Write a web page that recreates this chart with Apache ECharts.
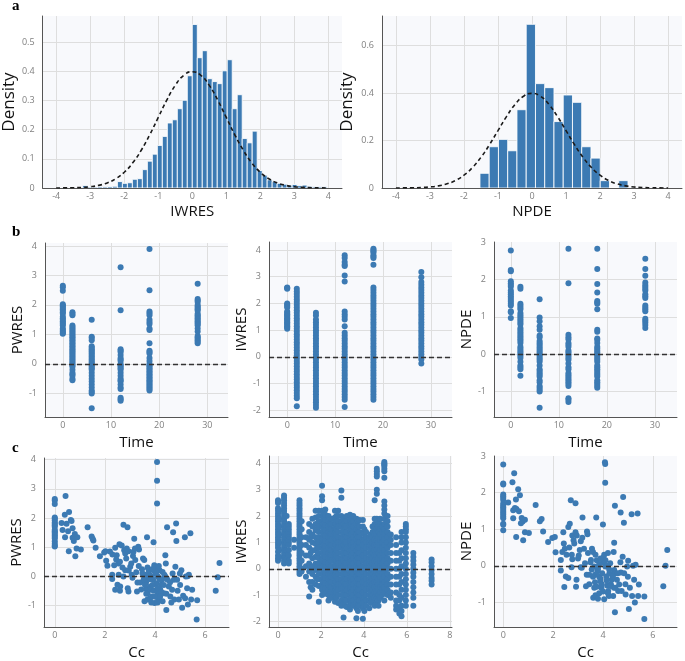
<!DOCTYPE html>
<html><head><meta charset="utf-8">
<script src="https://cdn.jsdelivr.net/npm/echarts@6/dist/echarts.min.js"></script>
<style>html,body{margin:0;padding:0;background:#fff}#c{width:685px;height:661px}</style>
</head><body><div id="c"></div>
<script>
// ---------- DATA ----------
// Histogram of IWRES (density), bins of equal width starting at iwresBinStart
const iwresBinStart = -3.227;
const iwresBinWidth = 0.1467;
const iwresDensity = [0.008,0.003,0.003,0.004,0.004,0.005,0.006,
  0.022,0.016,0.018,0.03,0.032,0.063,0.092,0.116,0.146,0.177,0.223,0.234,0.272,0.301,0.385,
  0.561,0.447,0.471,0.375,0.365,0.358,0.402,0.44,0.272,0.32,0.17,0.155,0.195,
  0.06,0.044,0.028,0.022,0.016,0.013,0.01,0.012,0.008,0.01,0.006,0.004,0.004,0.004];
// Histogram of NPDE
const npdeBinStart = -1.53;
const npdeBinWidth = 0.272;
const npdeDensity = [0.062,0.174,0.205,0.157,0.33,0.69,0.44,0.423,0.28,0.392,0.361,0.174,0.126,0.031,0,0.031];
// Standard normal reference curve
const curveX = [-4,-3.75,-3.5,-3.25,-3,-2.75,-2.5,-2.25,-2,-1.75,-1.5,-1.25,-1,-0.75,-0.5,-0.25,0,0.25,0.5,0.75,1,1.25,1.5,1.75,2,2.25,2.5,2.75,3,3.25,3.5,3.75,4];
const curveY = [0.0001,0.0004,0.0009,0.002,0.0044,0.0091,0.0175,0.0317,0.054,0.0863,0.1295,0.1826,0.242,0.3011,0.3521,0.3867,0.3989,0.3867,0.3521,0.3011,0.242,0.1826,0.1295,0.0863,0.054,0.0317,0.0175,0.0091,0.0044,0.002,0.0009,0.0004,0.0001];

// Residuals vs time (one list per sampling time)
const timePoints = [0, 2, 6, 12, 18, 28];
const pwresByTime = [
 [2.65,2.6,2.48,2.02,1.98,1.95,1.9,1.85,1.8,1.75,1.7,1.6,1.55,1.5,1.45,1.4,1.35,1.3,1.2,1.15,1.1,1.05,1.02],
 [1.75,1.7,1.65,1.3,1.25,1.2,1.15,1.1,1.05,1.0,0.95,0.9,0.85,0.8,0.75,0.7,0.65,0.6,0.55,0.5,0.45,0.4,0.35,0.3,0.25,0.2,0.15,0.1,0.05,0.0,-0.05,-0.1,-0.2,-0.3,-0.35,-0.4,-0.5,-0.55],
 [1.5,0.92,0.88,0.8,0.6,0.55,0.5,0.45,0.4,0.35,0.3,0.25,0.2,0.15,0.1,0.05,0,-0.05,-0.1,-0.15,-0.2,-0.3,-0.4,-0.5,-0.6,-0.7,-0.8,-0.9,-0.95,-1.0,-1.5],
 [3.28,1.82,0.5,0.45,0.4,0.3,0.2,0.15,0.1,0.0,-0.05,-0.1,-0.15,-0.2,-0.3,-0.4,-0.5,-0.55,-0.6,-0.7,-0.8,-0.85,-1.15,-1.2,-1.25],
 [3.9,2.5,1.78,1.72,1.65,1.5,1.42,1.35,1.2,1.15,0.7,0.45,0.4,0.35,0.2,0.1,0.0,-0.05,-0.1,-0.15,-0.2,-0.25,-0.3,-0.35,-0.4,-0.45,-0.5,-0.55,-0.6,-0.65,-0.7,-0.75,-0.8,-0.85,-0.9],
 [2.72,2.2,2.15,2.1,2.0,1.95,1.9,1.85,1.8,1.7,1.65,1.6,1.55,1.5,1.45,1.4,1.35,1.3,1.2,1.1,0.95,0.9,0.85,0.8,0.75,0.7]
];
const iwresByTime = [
 [2.6,2.58,2.55,2.0,1.95,1.9,1.85,1.7,1.65,1.6,1.55,1.5,1.45,1.4,1.35,1.3,1.25,1.2,1.15,1.1,1.05],
 [2.55,2.45,2.35,2.25,2.15,2.05,1.95,1.85,1.75,1.65,1.55,1.45,1.35,1.25,1.15,1.05,0.95,0.85,0.75,0.65,0.55,0.45,0.35,0.25,0.15,0.05,-0.05,-0.15,-0.25,-0.35,-0.45,-0.55,-0.65,-0.75,-0.85,-0.95,-1.05,-1.15,-1.25,-1.35,-1.45,-1.55,-1.85],
 [1.65,1.55,1.4,1.3,1.2,1.1,1.0,0.9,0.8,0.7,0.6,0.5,0.4,0.3,0.2,0.1,0.0,-0.1,-0.2,-0.3,-0.4,-0.5,-0.6,-0.7,-0.8,-0.9,-1.0,-1.1,-1.2,-1.3,-1.4,-1.5,-1.6,-1.7,-1.8,-1.9],
 [3.8,3.7,3.55,3.45,3.4,3.05,2.82,1.7,1.6,1.5,1.4,1.15,0.9,0.8,0.7,0.6,0.5,0.4,0.3,0.2,0.1,0.0,-0.1,-0.2,-0.3,-0.4,-0.5,-0.6,-0.7,-0.8,-0.9,-1.0,-1.1,-1.2,-1.3,-1.4,-1.5,-1.6,-1.88],
 [4.05,4.0,3.95,3.9,3.8,3.75,3.7,3.45,2.6,2.5,2.4,2.3,2.2,2.1,2.0,1.9,1.8,1.7,1.6,1.5,1.4,1.3,1.2,1.1,1.0,0.9,0.8,0.7,0.6,0.5,0.4,0.3,0.2,0.1,0.0,-0.1,-0.2,-0.3,-0.4,-0.5,-0.6,-0.7,-0.8,-0.9,-1.0,-1.1,-1.2,-1.3,-1.4,-1.5,-1.6],
 [3.18,2.98,2.8,2.7,2.6,2.5,2.4,2.3,2.2,2.1,2.0,1.9,1.8,1.7,1.6,1.5,1.4,1.3,1.2,1.1,1.0,0.9,0.8,0.7,0.6,0.5,0.4,0.3,0.2,0.1,0.0,-0.1,-0.25]
];
const npdeByTime = [
 [2.77,2.25,2.22,1.95,1.9,1.85,1.8,1.7,1.65,1.6,1.55,1.5,1.45,1.4,1.35,1.3,1.15,1.12,0.97],
 [1.8,1.75,1.35,1.3,1.25,1.2,1.1,1.05,1.0,0.95,0.9,0.85,0.8,0.7,0.65,0.6,0.55,0.5,0.45,0.4,0.35,0.3,0.2,0.15,0.1,0.05,0,-0.05,-0.1,-0.2,-0.3,-0.35,-0.4,-0.58],
 [1.47,0.98,0.88,0.75,0.65,0.5,0.45,0.35,0.3,0.25,0.2,0.15,0.1,0.05,0,-0.05,-0.1,-0.15,-0.2,-0.3,-0.4,-0.45,-0.5,-0.55,-0.6,-0.7,-0.75,-0.85,-0.9,-0.95,-1.0,-1.43],
 [2.82,1.9,0.52,0.45,0.4,0.3,0.25,0.2,0.1,0.05,0,-0.05,-0.1,-0.15,-0.25,-0.35,-0.4,-0.5,-0.55,-0.6,-0.65,-0.7,-0.75,-0.8,-0.85,-1.18,-1.22,-1.28],
 [2.82,2.28,1.88,1.65,1.42,1.38,1.35,1.2,0.65,0.6,0.42,0.38,0.3,0.2,0.15,0.1,0.05,0,-0.05,-0.1,-0.15,-0.2,-0.3,-0.35,-0.4,-0.45,-0.5,-0.55,-0.6,-0.7,-0.75,-0.8,-0.85,-0.9],
 [2.55,2.28,2.1,1.92,1.85,1.8,1.75,1.7,1.6,1.55,1.5,1.3,1.25,1.2,1.15,0.95,0.9,0.85,0.78,0.7]
];

// Residuals vs concentration Cc: [Cc, value]
const pwresVsCc = [
 [0,2.65],[0,2.6],[0,2.48],[0,2.02],[0,1.98],[0,1.92],[0,1.85],[0,1.8],[0,1.75],[0,1.7],[0,1.6],[0,1.55],[0,1.5],[0,1.45],[0,1.4],[0,1.35],[0,1.3],[0,1.2],[0,1.12],[0,1.05],[0,1.02],
 [0.27,1.83],[0.4,2.11],[0.43,2.76],[0.53,1.55],[0.57,2.21],[0.64,1.93],[0.71,1.65],[0.47,1.8],[0.31,1.59],[0.41,1.34],[0.56,0.86],[0.71,1.32],[0.76,1.21],[0.82,0.69],[0.87,0.95],[0.9,1.34],[1.04,0.92],[0.8,1.45],[0.67,1.9],
 [1.31,1.68],[1.47,1.37],[1.51,1.29],[1.54,1.23],[1.63,0.98],[1.8,0.69],[1.97,0.82],[2.02,0.86],[2.05,0.53],[2.1,0.36],
 [2.29,0.05],[2.29,-0.09],[2.41,-0.46],[2.5,-0.29],[2.61,-0.35],[2.41,0.98],[2.47,0.72],[2.45,0.58],[2.37,0.38],[2.54,0.44],[2.58,1.1],[2.67,1.06],[2.74,1.77],[2.9,1.68],[2.77,0.89],[2.81,0.78],[2.85,0.61],[2.87,0.95],[2.94,0.86],[2.91,-0.41],[2.94,-0.52],[2.74,-0.01],[2.81,0.21],[3.01,0.33],[3.05,0.44],[3.12,0.7],[3.14,0.84],[3.17,1.29],[3.21,0.56],[3.25,0.14],[3.07,0.05],[3.28,-0.52],[3.3,-0.21],[3.33,1.01],[3.36,0.92],[3.41,-0.21],[3.48,0.24],[3.52,0.61],[3.57,0.56],[3.61,0.05],[3.64,-0.21],[3.68,1.34],[3.65,-0.43],[3.7,-0.58],[3.58,-0.86],[3.74,-0.07],[3.78,0.05],[3.81,-0.35],[3.84,-0.46],[3.88,-0.69],[3.92,-0.12],[3.94,0.21],[3.97,0.38],[3.94,1.17],[3.98,-0.92],[4.08,3.92],[4.08,3.28],[4.08,2.5],[4.02,0.1],[4.05,-0.24],[4.08,-0.52],[4.1,-0.69],[4.13,-0.8],[4.16,-0.07],[4.18,0.21],[4.21,-0.46],[4.24,-0.29],[4.28,-0.12],[4.3,-0.86],[4.35,-0.58],[4.37,0.05],[4.41,0.72],[4.43,0.44],[4.45,-1.16],[4.48,1.68],[4.5,-0.12],[4.55,-0.35],[4.61,-0.69],[4.68,-0.46],[4.72,1.51],[4.75,-0.12],[4.77,-0.8],[4.81,0.33],[4.84,1.81],[4.85,1.21],[4.88,-0.12],[4.95,-0.8],[4.99,0.1],[5.05,0.21],[5.08,-1.08],[5.12,-0.67],[5.19,1.34],[5.23,-0.01],[5.28,-0.41],[5.31,-0.97],[5.35,0.05],[5.41,1.48],[5.44,-0.8],[5.48,-0.46],[5.66,-1.48],[5.68,-0.82],[6.42,-0.5],[6.5,-0.03],[6.57,0.46],
 [3.7,0.3],[3.75,0.2],[3.8,-0.1],[3.85,0.0],[3.9,-0.3],[3.95,-0.5],[4.0,0.3],[4.05,0.15],[4.1,-0.4],[4.15,0.35],[4.2,-0.1],[4.25,-0.55],[4.3,0.15],[3.6,-0.3],[3.65,-0.6],[3.7,-0.8],[3.8,-0.75],[3.9,0.25],[4.0,-0.7],[4.1,0.0],[4.2,-0.7],[4.35,-0.3],[4.4,0.0],[3.55,-0.1],[3.5,0.1],[2.6,0.5],[2.7,0.3],[2.95,0.2],[3.1,-0.05],[3.2,0.95],[3.45,-0.45],[3.35,0.35],[2.55,0.05],[2.3,0.75],[2.2,0.85],[2.6,-0.5],[4.6,-0.2],[4.7,0.1],[4.9,-0.5],[5.0,-0.3],[4.45,-0.6],[4.65,-0.9],[4.1,-0.9],[3.85,-0.9],[5.2,-0.75],[5.3,0.0]
];
const npdeVsCc = [
 [0,2.77],[0,2.25],[0,2.22],[0,1.95],[0,1.9],[0,1.85],[0,1.8],[0,1.7],[0,1.65],[0,1.6],[0,1.55],[0,1.5],[0,1.45],[0,1.4],[0,1.35],[0,1.3],[0,1.15],[0,1.12],[0,0.97],
 [0.2,1.73],[0.37,2.28],[0.44,2.53],[0.51,1.81],[0.6,2.09],[0.67,1.93],[0.4,1.52],[0.47,1.58],[0.53,1.55],[0.63,1.49],[0.4,1.3],[0.52,0.79],[0.74,1.31],[0.78,1.21],[0.8,0.7],[0.87,1.26],[0.87,0.92],[1.03,0.9],[0.71,1.16],
 [1.3,1.66],[1.47,1.22],[1.54,1.28],[1.6,0.94],[1.8,0.65],[1.97,0.76],[2.07,0.79],[2.1,0.37],[2.31,0.16],[2.31,-0.13],[2.45,-0.58],[2.51,-0.29],[2.61,-0.33],[2.41,0.92],[2.43,0.61],[2.47,0.47],[2.37,0.38],[2.54,0.3],[2.61,1.06],[2.67,1.15],[2.71,1.79],[2.9,1.71],[2.77,0.83],[2.82,0.7],[2.85,0.61],[2.9,0.92],[2.95,0.83],[2.94,-0.38],[2.92,-0.57],[2.74,-0.04],[2.77,0.18],[3.03,0.28],[3.07,0.43],[3.11,0.67],[3.17,0.77],[3.18,1.32],[3.24,0.47],[3.28,0.07],[3.11,-0.04],[3.32,-0.56],[3.35,-0.24],[3.36,0.94],[3.38,0.86],[3.45,-0.24],[3.52,0.16],[3.56,0.47],[3.6,0.38],[3.65,-0.02],[3.68,-0.24],[3.73,1.32],[3.68,-0.45],[3.75,-0.57],[3.61,-0.87],[3.78,-0.15],[3.81,-0.02],[3.85,-0.3],[3.89,-0.42],[3.94,-0.6],[3.97,-0.2],[4.0,0.09],[4.02,0.23],[4.0,1.13],[4.05,-0.91],[4.08,2.83],[4.09,2.78],[4.09,2.27],[4.1,-0.02],[4.14,-0.29],[4.17,-0.54],[4.21,-0.69],[4.24,-0.82],[4.26,-0.2],[4.29,0.07],[4.32,-0.51],[4.35,-0.38],[4.37,-0.24],[4.41,-0.82],[4.44,-0.6],[4.45,-0.11],[4.43,0.38],[4.45,0.63],[4.48,-1.27],[4.48,1.64],[4.51,-0.2],[4.56,-0.38],[4.61,-0.69],[4.65,-0.51],[4.71,1.46],[4.72,-0.18],[4.75,-0.69],[4.79,0.25],[4.81,1.88],[4.84,1.18],[4.85,-0.2],[4.91,-0.78],[4.97,-0.02],[5.01,0.14],[5.04,-1.18],[5.08,-0.6],[5.15,1.41],[5.17,-0.82],[5.21,0.0],[5.25,-0.38],[5.28,-1.0],[5.31,0.03],[5.39,1.43],[5.41,-0.82],[5.44,-0.51],[5.66,-1.45],[5.66,-0.84],[6.42,-0.56],[6.51,0.0],[6.58,0.43],
 [3.7,0.3],[3.75,0.15],[3.8,-0.1],[3.85,0.05],[3.9,-0.35],[3.95,-0.5],[4.05,0.3],[4.1,0.15],[4.15,-0.4],[4.2,0.35],[4.25,-0.1],[4.3,-0.55],[3.6,-0.3],[3.65,-0.6],[3.7,-0.8],[3.85,-0.75],[3.9,0.2],[4.0,-0.7],[4.15,0.0],[4.2,-0.75],[4.4,-0.3],[3.55,-0.1],[3.5,0.1],[2.65,0.5],[2.75,0.3],[3.0,0.2],[3.15,-0.05],[3.45,-0.5],[3.4,0.35],[4.6,-0.2],[4.7,0.1],[4.9,-0.5],[5.0,-0.3],[4.5,-0.6],[3.8,-0.9]
];
// IWRES vs Cc, grouped by Cc value: [Cc, [IWRES values]]
const iwresVsCcCols = [
 [0.0,[2.6,2.55,2.5,2.3,2.2,2.1,2.0,1.9,1.8,1.7,1.6,1.5,1.4,1.3,1.2,1.1,1.0,0.9,0.8,0.65,0.5,0.4,0.3]],
 [0.05,[2.2,1.9,1.6,1.3,1.0,0.7,0.45]],
 [0.28,[2.78,2.7,2.6,2.5,2.4,2.3,2.2,2.1,2.0,1.9,1.8,1.7,1.6,1.5,1.4,1.3,1.2,1.1,1.0,0.9,0.8,0.7,0.6,0.5,0.4,0.3,0.2]],
 [0.4,[2.0,1.6,1.3,1.0,0.7,0.35]],
 [0.5,[1.7,1.6,1.5,1.4,1.3,1.2,1.1,1.0,0.9,0.7,0.5,0.3,0.2]],
 [0.75,[1.1,0.8]],
 [1.0,[2.6,2.5,2.4,2.3,2.2,2.1,2.0,1.9,1.8,1.7,1.6,1.5,1.4,1.3,1.2,1.1,1.0,0.9,0.8,0.7,0.6,0.5,0.4,0.3,0.2,0.1,0.0,-0.1,-0.2]],
 [1.1,[1.8,1.5,1.2,0.9,0.6,0.3,0.0,-0.1]],
 [1.3,[1.2,0.9,0.5,0.1,-0.3]],
 [1.45,[1.7,1.4,1.1,0.8,0.5,0.2,-0.1,-0.5,-1.05]],
 [1.52,[1.2,0.6,0.0,-0.7]],
 [1.6,[1.9,1.6,1.3,1.0,0.7,0.4,0.1,-0.2,-0.5,-0.8]],
 [1.75,[2.2,1.95,1.7,1.45,1.2,0.95,0.7,0.45,0.2,-0.05,-0.3,-0.6]],
 [1.82,[1.5,1.1,0.8,0.5,0.1,-0.4]],
 [1.9,[2.2,2.0,1.8,1.6,1.4,1.2,1.0,0.8,0.6,0.4,0.2,0.0,-0.2,-0.4,-0.65,-1.25]],
 [2.05,[3.15,2.75,2.6,2.2,2.0,1.8,1.6,1.4,1.2,1.0,0.8,0.6,0.4,0.2,0.0,-0.2,-0.4,-0.6,-0.8,-1.0]],
 [2.12,[2.1,1.9,1.7,1.5,1.3,1.1,0.9,0.7,0.5,0.3,0.1,-0.1,-0.3,-0.5,-0.7,-0.9]],
 [2.2,[2.25,2.05,1.85,1.65,1.45,1.25,1.05,0.85,0.65,0.45,0.25,0.05,-0.15,-0.35,-0.55,-0.75,-0.95]],
 [2.35,[2.0,1.8,1.6,1.4,1.2,1.0,0.8,0.6,0.4,0.2,0.0,-0.2,-0.4,-0.6,-0.8,-1.0,-1.2]],
 [2.42,[1.7,1.5,1.3,1.1,0.9,0.7,0.5,0.3,0.1,-0.1,-0.3,-0.5,-0.7,-0.9,-1.1]],
 [2.5,[1.9,1.7,1.5,1.3,1.1,0.9,0.7,0.5,0.3,0.1,-0.1,-0.3,-0.5,-0.7,-0.9,-1.1]],
 [2.65,[2.2,1.95,1.75,1.55,1.35,1.15,0.95,0.75,0.55,0.35,0.15,-0.05,-0.25,-0.45,-0.65,-0.85,-1.05,-1.25]],
 [2.72,[2.0,1.7,1.5,1.3,1.1,0.9,0.7,0.5,0.3,0.1,-0.1,-0.3,-0.5,-0.7,-0.9,-1.1]],
 [2.8,[2.2,2.0,1.8,1.6,1.4,1.2,1.0,0.8,0.6,0.4,0.2,0.0,-0.2,-0.4,-0.6,-0.8,-1.0,-1.3]],
 [2.95,[2.97,2.7,2.0,1.8,1.6,1.4,1.2,1.0,0.8,0.6,0.4,0.2,0.0,-0.2,-0.4,-0.6,-0.8,-1.0,-1.2,-1.4]],
 [3.05,[1.9,1.7,1.5,1.3,1.1,0.9,0.7,0.5,0.3,0.1,-0.1,-0.3,-0.5,-0.7,-0.9,-1.1,-1.35,-1.85]],
 [3.12,[1.8,1.6,1.4,1.2,1.0,0.8,0.6,0.4,0.2,0.0,-0.2,-0.4,-0.6,-0.8,-1.0,-1.2,-1.4]],
 [3.2,[2.0,1.8,1.6,1.4,1.2,1.0,0.8,0.6,0.4,0.2,0.0,-0.2,-0.4,-0.6,-0.8,-1.0,-1.2,-1.45]],
 [3.35,[2.05,1.85,1.65,1.45,1.25,1.05,0.85,0.65,0.45,0.25,0.05,-0.15,-0.35,-0.55,-0.75,-0.95,-1.15,-1.35,-1.55]],
 [3.42,[1.9,1.7,1.5,1.3,1.1,0.9,0.7,0.5,0.3,0.1,-0.1,-0.3,-0.5,-0.7,-0.9,-1.1,-1.3]],
 [3.5,[2.0,1.8,1.6,1.4,1.2,1.0,0.8,0.6,0.4,0.2,0.0,-0.2,-0.4,-0.6,-0.8,-1.0,-1.2,-1.4]],
 [3.65,[1.9,1.7,1.5,1.3,1.1,0.9,0.7,0.5,0.3,0.1,-0.1,-0.3,-0.5,-0.7,-0.9,-1.1,-1.3,-1.5,-1.88]],
 [3.72,[1.8,1.6,1.4,1.2,1.0,0.8,0.6,0.4,0.2,0.0,-0.2,-0.4,-0.6,-0.8,-1.0,-1.2,-1.4,-1.6]],
 [3.8,[1.85,1.6,1.4,1.2,1.0,0.8,0.6,0.4,0.2,0.0,-0.2,-0.4,-0.6,-0.8,-1.0,-1.2,-1.4]],
 [3.95,[1.85,1.6,1.35,1.1,0.9,0.7,0.5,0.3,0.1,-0.1,-0.3,-0.5,-0.7,-0.9,-1.1,-1.3,-1.5,-1.9]],
 [4.02,[1.5,1.3,1.1,0.9,0.7,0.5,0.3,0.1,-0.1,-0.3,-0.5,-0.7,-0.9,-1.1,-1.3,-1.6]],
 [4.1,[1.4,1.2,1.0,0.8,0.6,0.4,0.2,0.0,-0.2,-0.4,-0.6,-0.8,-1.0,-1.2,-1.4]],
 [4.25,[1.2,1.0,0.8,0.6,0.4,0.2,0.0,-0.2,-0.4,-0.6,-0.8,-1.0,-1.2,-1.5]],
 [4.32,[1.3,1.1,0.9,0.7,0.5,0.3,0.1,-0.1,-0.3,-0.5,-0.7,-0.9,-1.1,-1.3]],
 [4.4,[1.6,1.4,1.2,1.0,0.8,0.6,0.4,0.2,0.0,-0.2,-0.4,-0.6,-0.8,-1.0,-1.2]],
 [4.5,[2.6,1.9,1.7,1.5,1.3,1.1,0.9,0.7,0.5,0.3,0.1,-0.1,-0.3,-0.5,-0.7,-0.9,-1.1,-1.4]],
 [4.6,[3.8,3.7,3.6,3.5,3.0,2.85,1.9,1.7,1.5,1.3,1.1,0.9,0.7,0.5,0.3,0.1,-0.1,-0.3,-0.5,-0.7,-0.9,-1.1,-1.3]],
 [4.68,[1.8,1.6,1.4,1.2,1.0,0.8,0.6,0.4,0.2,0.0,-0.2,-0.4,-0.6,-0.8,-1.0,-1.2,-1.4]],
 [4.75,[1.9,1.7,1.5,1.3,1.1,0.9,0.7,0.5,0.3,0.1,-0.1,-0.3,-0.5,-0.7,-0.9,-1.1]],
 [4.85,[1.6,1.4,1.2,1.0,0.8,0.6,0.4,0.2,0.0,-0.2,-0.4,-0.6,-0.8,-1.0]],
 [4.95,[4.05,4.0,3.95,3.9,3.8,3.7,3.45,2.55,2.4,2.25,2.1,1.9,1.7,1.5,1.3,1.1,0.9,0.7,0.5,0.3,0.1,-0.1,-0.3,-0.5,-0.7,-0.9,-1.2]],
 [5.1,[2.0,1.8,1.6,1.4,1.2,1.0,0.8,0.6,0.4,0.2,0.0,-0.2,-0.4,-0.6,-0.8,-1.0]],
 [5.25,[1.3,1.1,0.9,0.6,0.3,0.0,-0.3,-0.6,-0.9,-1.1]],
 [5.5,[1.2,0.9,0.6,0.3,0.0,-0.3,-0.6,-0.9,-1.2,-1.4,-1.55]],
 [5.65,[0.6,0.3,0.0,-0.3,-0.6,-1.0,-1.2,-1.5,-1.7]],
 [5.75,[1.4,1.2,1.0,0.7,0.4,0.1,-0.2,-0.5,-0.8,-1.1,-1.4,-1.6,-1.8]],
 [5.95,[1.7,1.6,1.5,1.4,1.2,1.0,0.8,0.6,0.4,0.2,0.0,-0.2,-0.4,-0.6,-0.8,-1.0,-1.2,-1.4]],
 [6.3,[0.6,0.45,0.3,0.15,0.0,-0.15,-0.3,-0.5,-0.7,-0.9,-1.1,-1.4]],
 [7.15,[0.35,0.25,0.1,-0.05,-0.2,-0.35,-0.45,-0.6]]
];

// ---------- BUILD ----------
const BLUE = '#3c7ab3';
const FONT = '"Open Sans", "Noto Sans", sans-serif';
const byTime = arr => timePoints.flatMap((t, i) => arr[i].map(v => [t, v]));
const bins = (start, w, dens) => dens.map((h, i) => [start + i * w, start + (i + 1) * w, h]);
const fmt = v => String(parseFloat(v.toFixed(6)));
const isMult = (v, iv) => Math.abs(v / iv - Math.round(v / iv)) < 1e-6;

const grids = [
  {left:41, top:16, width:301, height:172},
  {left:382, top:16, width:300, height:172},
  {left:45, top:243, width:183, height:174},
  {left:269, top:242, width:183, height:175},
  {left:494, top:242, width:183, height:175},
  {left:44, top:458, width:185, height:171},
  {left:269, top:456, width:183, height:174},
  {left:494, top:456, width:183, height:174}
].map(g => Object.assign(g, {show:true, backgroundColor:'#f8f9fc', borderWidth:0}));

function axis(dim, gi, min, max, iv, name, gap, size) {
  return {
    type:'value', gridIndex:gi, min, max, minInterval:iv, maxInterval:iv,
    splitNumber: Math.max(1, Math.round((max - min) / iv)),
    name, nameLocation:'middle', nameGap:gap,
    nameTextStyle:{fontFamily:FONT, fontSize:size, color:'#111'},
    axisLine:{show:true, onZero:false, lineStyle:{color:'#555', width:1}},
    axisTick:{show:false},
    axisLabel:{fontFamily:FONT, fontSize:9, color:'#808080', margin: dim === 'x' ? 4 : 8,
      formatter: v => isMult(v, iv) ? fmt(v) : ''},
    splitLine:{show:true, showMinLine:false, showMaxLine:false, lineStyle:{color:'#dedede', width:1}}
  };
}

const xAxes = [
  axis('x',0,-4.4,4.4,1,'IWRES',16,15),
  axis('x',1,-4.41,4.41,1,'NPDE',16,15),
  axis('x',2,-3.7,34.3,10,'Time',18,15),
  axis('x',3,-3.8,34.4,10,'Time',18,15),
  axis('x',4,-3.5,34.6,10,'Time',18,15),
  axis('x',5,-0.43,6.95,2,'Cc',18,15),
  axis('x',6,-0.42,8.1,2,'Cc',18,15),
  axis('x',7,-0.37,6.97,2,'Cc',18,15)
];
const yAxes = [
  axis('y',0,0,0.59,0.1,'Density',24,17),
  axis('y',1,0,0.725,0.2,'Density',26,17),
  axis('y',2,-1.8,4.1,1,'PWRES',20,15),
  axis('y',3,-2.25,4.3,1,'IWRES',16,15),
  axis('y',4,-1.68,3.0,1,'NPDE',16,15),
  axis('y',5,-1.74,4.06,1,'PWRES',19,15),
  axis('y',6,-2.21,4.28,1,'IWRES',16,15),
  axis('y',7,-1.67,3.0,1,'NPDE',16,15)
];

function hist(idx, data) {
  return {
    type:'custom', xAxisIndex:idx, yAxisIndex:idx, data, encode:{x:[0,1], y:2}, clip:true,
    renderItem(params, api) {
      const p0 = api.coord([api.value(0), api.value(2)]);
      const p1 = api.coord([api.value(1), 0]);
      return {type:'rect', shape:{x:p0[0], y:p0[1], width:p1[0]-p0[0], height:p1[1]-p0[1]},
        style:{fill:BLUE, stroke:'rgba(255,255,255,0.85)', lineWidth:1}};
    }
  };
}
function curve(idx) {
  return {type:'line', xAxisIndex:idx, yAxisIndex:idx, data: curveX.map((x, i) => [x, curveY[i]]),
    smooth:true, symbol:'none', z:5, lineStyle:{color:'#1a1a1a', width:1.6, type:[4,3]}};
}
function scatter(idx, data) {
  return {type:'scatter', xAxisIndex:idx, yAxisIndex:idx, data, symbolSize:6,
    itemStyle:{color:BLUE, opacity:1},
    markLine:{silent:true, symbol:'none', label:{show:false}, z:10,
      lineStyle:{color:'#333', width:1.3, type:[5,3]}, data:[{yAxis:0}]}};
}

const series = [
  hist(0, bins(iwresBinStart, iwresBinWidth, iwresDensity)), curve(0),
  hist(1, bins(npdeBinStart, npdeBinWidth, npdeDensity)), curve(1),
  scatter(2, byTime(pwresByTime)),
  scatter(3, byTime(iwresByTime)),
  scatter(4, byTime(npdeByTime)),
  scatter(5, pwresVsCc),
  scatter(6, iwresVsCcCols.flatMap(([c, ys]) => ys.map(y => [c, y]))),
  scatter(7, npdeVsCc)
];

const letterFont = 'bold 15px "Liberation Serif", "DejaVu Serif", serif';
const chart = echarts.init(document.getElementById('c'), null, {renderer:'canvas'});
chart.setOption({
  animation:false,
  grid:grids, xAxis:xAxes, yAxis:yAxes, series,
  graphic:[
    {type:'text', left:12, top:-1, style:{text:'a', font:letterFont, fill:'#000'}},
    {type:'text', left:12, top:225, style:{text:'b', font:letterFont, fill:'#000'}},
    {type:'text', left:12, top:441, style:{text:'c', font:letterFont, fill:'#000'}}
  ]
});
</script></body></html>
